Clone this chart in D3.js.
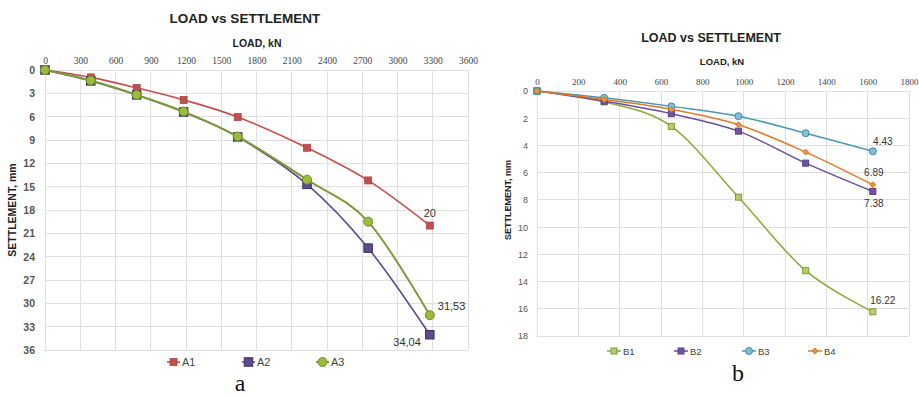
<!DOCTYPE html>
<html><head><meta charset="utf-8">
<script src="https://cdn.jsdelivr.net/npm/d3@7"></script>
<style>
html,body{margin:0;padding:0;background:#fff;}
svg{display:block;}
</style></head>
<body>
<svg id="chart" width="919" height="398"></svg>
<script>
// ---- Data: chart a ----
const loadsA = [0, 390, 780, 1180, 1640, 2230, 2750, 3275];
const seriesA1 = [0, 0.95, 2.3, 3.85, 6.05, 10.0, 14.2, 20.0];
const seriesA2 = [0, 1.4, 3.2, 5.4, 8.6, 14.7, 22.9, 34.04];
const seriesA3 = [0, 1.35, 3.2, 5.35, 8.55, 14.1, 19.5, 31.53];
const namesA = ["A1", "A2", "A3"];
const xTicksA = [0, 300, 600, 900, 1200, 1500, 1800, 2100, 2400, 2700, 3000, 3300, 3600];
const yTicksA = [0, 3, 6, 9, 12, 15, 18, 21, 24, 27, 30, 33, 36];
const labelsA = ["20", "34,04", "31,53"];

// ---- Data: chart b ----
const loadsB = [0, 325, 650, 975, 1300, 1625];
const seriesB1 = [0, 0.8, 2.6, 7.8, 13.2, 16.22];
const seriesB2 = [0, 0.75, 1.67, 2.95, 5.3, 7.38];
const seriesB3 = [0, 0.5, 1.13, 1.85, 3.1, 4.43];
const seriesB4 = [0, 0.62, 1.35, 2.48, 4.49, 6.89];
const namesB = ["B1", "B2", "B3", "B4"];
const xTicksB = [0, 200, 400, 600, 800, 1000, 1200, 1400, 1600, 1800];
const yTicksB = [0, 2, 4, 6, 8, 10, 12, 14, 16, 18];
const labelsB = ["16.22", "7.38", "4.43", "6.89"];

const svg = d3.select("#chart");
const sans = "'Liberation Sans', Arial, sans-serif";
const serif = "'Liberation Serif', 'Times New Roman', serif";
const curve = d3.curveCardinal.tension(0);

function drawMarker(g, type, x, y, st) {
  if (type === "square") {
    g.append("rect").attr("x", x - st.size/2).attr("y", y - st.size/2)
      .attr("width", st.size).attr("height", st.size)
      .attr("fill", st.fill).attr("stroke", st.stroke).attr("stroke-width", st.sw);
  } else if (type === "circle") {
    g.append("circle").attr("cx", x).attr("cy", y).attr("r", st.size/2)
      .attr("fill", st.fill).attr("stroke", st.stroke).attr("stroke-width", st.sw);
  } else if (type === "diamond") {
    const s = st.size/2;
    g.append("path").attr("d", `M${x},${y-s}L${x+s},${y}L${x},${y+s}L${x-s},${y}Z`)
      .attr("fill", st.fill).attr("stroke", st.stroke).attr("stroke-width", st.sw);
  }
}

function drawChart(cfg) {
  const g = svg.append("g");
  const x = d3.scaleLinear().domain(cfg.xDomain).range([cfg.left, cfg.right]);
  const y = d3.scaleLinear().domain(cfg.yDomain).range([cfg.top, cfg.bottom]);

  // gridlines
  const grid = g.append("g");
  grid.selectAll("line.v").data(cfg.xTicks).enter().append("line")
    .attr("x1", d => x(d)).attr("x2", d => x(d))
    .attr("y1", cfg.top).attr("y2", cfg.bottom)
    .attr("stroke", "#e0e0e0").attr("stroke-width", 1).attr("shape-rendering", "crispEdges");
  grid.selectAll("line.h").data(cfg.yTicks).enter().append("line")
    .attr("y1", d => y(d)).attr("y2", d => y(d))
    .attr("x1", cfg.left).attr("x2", cfg.right)
    .attr("stroke", "#e0e0e0").attr("stroke-width", 1).attr("shape-rendering", "crispEdges");

  // axes via d3 axis
  const xAxis = d3.axisTop(x).tickValues(cfg.xTicks).tickFormat(d3.format("d"))
    .tickSize(0).tickPadding(cfg.xPad);
  const xa = g.append("g").attr("transform", `translate(0,${cfg.top})`).call(xAxis);
  xa.select(".domain").remove();
  xa.selectAll("text").attr("font-family", serif).attr("font-size", cfg.xFont).attr("fill", "#444");

  const yAxis = d3.axisLeft(y).tickValues(cfg.yTicks).tickFormat(d3.format("d"))
    .tickSize(0).tickPadding(cfg.yPad);
  const ya = g.append("g").attr("transform", `translate(${cfg.left},0)`).call(yAxis);
  ya.select(".domain").remove();
  ya.selectAll("text").attr("font-family", sans).attr("font-size", cfg.yFont)
    .attr("font-weight", cfg.yWeight).attr("fill", "#555");

  // titles
  g.append("text").attr("x", cfg.titleX).attr("y", cfg.titleY).attr("text-anchor", "middle")
    .attr("font-family", sans).attr("font-weight", "bold").attr("font-size", cfg.titleFont)
    .attr("fill", "#222").text("LOAD vs SETTLEMENT");
  g.append("text").attr("x", cfg.xTitleX).attr("y", cfg.xTitleY).attr("text-anchor", "middle")
    .attr("font-family", sans).attr("font-weight", "bold").attr("font-size", cfg.xTitleFont)
    .attr("fill", "#222").text("LOAD, kN");
  g.append("text").attr("transform", `translate(${cfg.yTitleX},${cfg.yTitleY}) rotate(-90)`)
    .attr("text-anchor", "middle")
    .attr("font-family", sans).attr("font-weight", "bold").attr("font-size", cfg.yTitleFont)
    .attr("fill", "#222").text("SETTLEMENT, mm");

  // series
  cfg.series.forEach(s => {
    const pts = cfg.loads.map((l, i) => [x(l), y(s.values[i])]);
    g.append("path").attr("d", d3.line().curve(curve)(pts))
      .attr("fill", "none").attr("stroke", s.color).attr("stroke-width", s.lw);
    pts.forEach(p => drawMarker(g, s.marker, p[0], p[1], s.ms));
  });
  // data labels
  cfg.series.forEach(s => {
    const i = cfg.loads.length - 1;
    const px = x(cfg.loads[i]), py = y(s.values[i]);
    g.append("text").attr("x", px + s.lab.dx).attr("y", py + s.lab.dy)
      .attr("text-anchor", s.lab.anchor)
      .attr("font-family", sans).attr("font-size", cfg.labFont).attr("fill", "#333")
      .text(s.label);
  });

  // legend
  cfg.series.forEach((s, i) => {
    const lx = cfg.legendX[i], ly = cfg.legendY;
    g.append("line").attr("x1", lx).attr("x2", lx + cfg.legLen).attr("y1", ly).attr("y2", ly)
      .attr("stroke", s.color).attr("stroke-width", s.lw);
    drawMarker(g, s.marker, lx + cfg.legLen/2, ly, s.ms);
    g.append("text").attr("x", lx + cfg.legLen + 2).attr("y", ly + 4)
      .attr("font-family", sans).attr("font-size", cfg.legFont).attr("fill", "#444").text(s.name);
  });

  // caption
  g.append("text").attr("x", cfg.capX).attr("y", cfg.capY).attr("text-anchor", "middle")
    .attr("font-family", serif).attr("font-size", 24).attr("fill", "#111").text(cfg.caption);
}

drawChart({
  xDomain: [0, 3600], yDomain: [0, 36],
  left: 45, right: 468, top: 70, bottom: 350,
  xTicks: xTicksA, yTicks: yTicksA, loads: loadsA,
  xPad: 6, yPad: 10, xFont: 9.5, yFont: 10.5, yWeight: "bold",
  titleX: 245, titleY: 23, titleFont: 13.5,
  xTitleX: 257, xTitleY: 47, xTitleFont: 10.5,
  yTitleX: 16, yTitleY: 210, yTitleFont: 10.5,
  labFont: 11,
  series: [
    {name: namesA[0], values: seriesA1, color: "#c0504d", lw: 1.6, marker: "square",
     ms: {size: 7, fill: "#c0504d", stroke: "#b04340", sw: 0.8}, label: labelsA[0],
     lab: {dx: 0, dy: -9, anchor: "middle"}},
    {name: namesA[1], values: seriesA2, color: "#5b4a8a", lw: 1.6, marker: "square",
     ms: {size: 8.5, fill: "#5f4b8b", stroke: "#3f3166", sw: 1}, label: labelsA[1],
     lab: {dx: -9, dy: 11, anchor: "end"}},
    {name: namesA[2], values: seriesA3, color: "#7f9a3a", lw: 2, marker: "circle",
     ms: {size: 9, fill: "#9bbb3a", stroke: "#6f8a2a", sw: 1}, label: labelsA[2],
     lab: {dx: 8, dy: -5, anchor: "start"}}
  ],
  legendX: [167, 242, 316], legendY: 362, legLen: 13, legFont: 11,
  capX: 240, capY: 391, caption: "a"
});

drawChart({
  xDomain: [0, 1800], yDomain: [0, 18],
  left: 537, right: 909, top: 91, bottom: 336,
  xTicks: xTicksB, yTicks: yTicksB, loads: loadsB,
  xPad: 6, yPad: 9, xFont: 9, yFont: 9, yWeight: "normal",
  titleX: 711, titleY: 42, titleFont: 12.5,
  xTitleX: 722, xTitleY: 65, xTitleFont: 9.5,
  yTitleX: 511, yTitleY: 200, yTitleFont: 9,
  labFont: 10,
  series: [
    {name: namesB[0], values: seriesB1, color: "#8aa83c", lw: 1.5, marker: "square",
     ms: {size: 6, fill: "#b5cf70", stroke: "#7f9a30", sw: 1}, label: labelsB[0],
     lab: {dx: 10, dy: -8, anchor: "middle"}},
    {name: namesB[1], values: seriesB2, color: "#6a4f9c", lw: 1.5, marker: "square",
     ms: {size: 6, fill: "#6e55a2", stroke: "#54408a", sw: 1}, label: labelsB[1],
     lab: {dx: 1, dy: 16, anchor: "middle"}},
    {name: namesB[2], values: seriesB3, color: "#4b98b6", lw: 1.5, marker: "circle",
     ms: {size: 7, fill: "#7fbfd8", stroke: "#3f8aaa", sw: 1}, label: labelsB[2],
     lab: {dx: 10, dy: -6, anchor: "middle"}},
    {name: namesB[3], values: seriesB4, color: "#e07b2a", lw: 1.5, marker: "diamond",
     ms: {size: 6, fill: "#f0923a", stroke: "#d06a1a", sw: 0.8}, label: labelsB[3],
     lab: {dx: 1, dy: -9, anchor: "middle"}}
  ],
  legendX: [607, 674, 742, 808], legendY: 351, legLen: 14, legFont: 9.5,
  capX: 738, capY: 381, caption: "b"
});
</script>
</body></html>
